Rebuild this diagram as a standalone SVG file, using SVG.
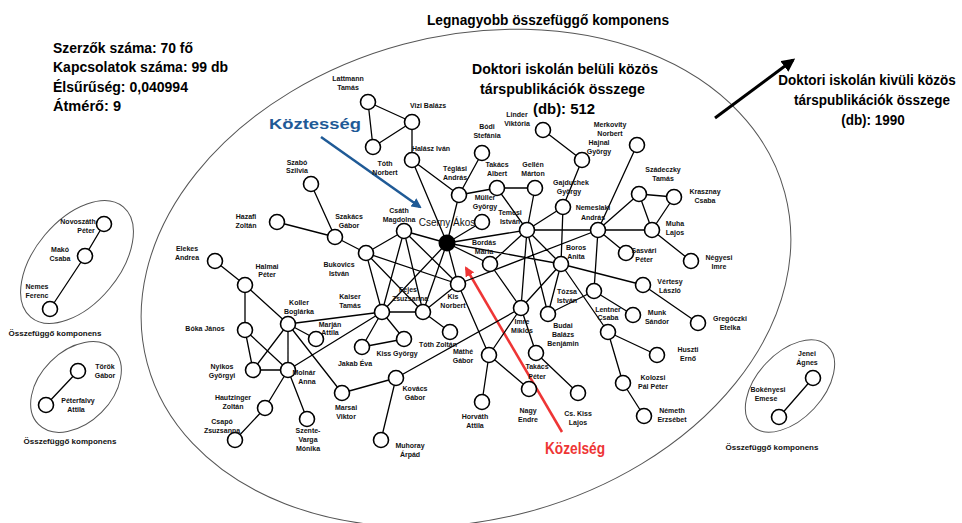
<svg xmlns="http://www.w3.org/2000/svg" width="962" height="523" viewBox="0 0 962 523">
<style>
.e{stroke:#000;stroke-width:1.3;fill:none}
.n{fill:#fff;stroke:#000;stroke-width:1.6}
.lb{font-family:"Liberation Sans",Arial,sans-serif;font-weight:bold;font-size:7px;fill:#111;text-anchor:middle}
.big{font-family:"Liberation Sans",Arial,sans-serif;font-weight:bold;font-size:15px;fill:#000}
.ring{fill:none;stroke:#555;stroke-width:1}
</style>
<defs>
<marker id="ab" viewBox="0 0 10 10" refX="8" refY="5" markerWidth="4.5" markerHeight="4.5" orient="auto"><path d="M0,0L10,5L0,10z" fill="#000"/></marker>
<marker id="au" viewBox="0 0 10 10" refX="8" refY="5" markerWidth="4" markerHeight="4" orient="auto"><path d="M0,0L10,5L0,10z" fill="#1f5a96"/></marker>
<marker id="ar" viewBox="0 0 10 10" refX="8" refY="5" markerWidth="4" markerHeight="4" orient="auto"><path d="M0,0L10,5L0,10z" fill="#ee3535"/></marker>
</defs>
<rect width="962" height="523" fill="#fff"/>

<!-- component outlines -->
<g id="outlines">
<ellipse class="ring" cx="466" cy="278" rx="330" ry="242" transform="rotate(-15 466 278)"/>
<ellipse class="ring" cx="77" cy="262" rx="72" ry="42" transform="rotate(-50 77 262)"/>
<ellipse class="ring" cx="76" cy="387" rx="53" ry="36" transform="rotate(-45 76 387)"/>
<ellipse class="ring" cx="790" cy="386" rx="55" ry="33" transform="rotate(-47 790 386)"/>
</g>

<!-- headings and statistics -->
<g id="texts">
<text class="big" x="427" y="25" textLength="242" lengthAdjust="spacingAndGlyphs">Legnagyobb összefüggő komponens</text>
<text class="big" x="53" y="53" textLength="140" lengthAdjust="spacingAndGlyphs">Szerzők száma: 70 fő</text>
<text class="big" x="53" y="72" textLength="175" lengthAdjust="spacingAndGlyphs">Kapcsolatok száma: 99 db</text>
<text class="big" x="53" y="92" textLength="135" lengthAdjust="spacingAndGlyphs">Élsűrűség: 0,040994</text>
<text class="big" x="53" y="111" textLength="68" lengthAdjust="spacingAndGlyphs">Átmérő: 9</text>
<text class="big" x="472" y="74" textLength="186" lengthAdjust="spacingAndGlyphs">Doktori iskolán belüli közös</text>
<text class="big" x="480" y="94" textLength="165" lengthAdjust="spacingAndGlyphs">társpublikációk összege</text>
<text class="big" x="533" y="114" textLength="62" lengthAdjust="spacingAndGlyphs">(db): 512</text>
<text class="big" transform="translate(867 85) scale(0.9 1)" text-anchor="middle">Doktori iskolán kivüli közös</text>
<text class="big" transform="translate(872 105) scale(0.9 1)" text-anchor="middle">társpublikációk összege</text>
<text class="big" transform="translate(873 125) scale(0.9 1)" text-anchor="middle">(db): 1990</text>
<text class="big" x="269" y="129" style="fill:#1f5a96" textLength="92" lengthAdjust="spacingAndGlyphs">Köztesség</text>
<text class="big" x="545" y="454" style="fill:#ee3535;font-size:16px" textLength="60" lengthAdjust="spacingAndGlyphs">Közelség</text>
<text class="lb" x="55" y="336" style="font-size:8px">Összefüggő komponens</text>
<text class="lb" x="70" y="444" style="font-size:8px">Összefüggő komponens</text>
<text class="lb" x="772" y="450" style="font-size:8px">Összefüggő komponens</text>
</g>

<!-- arrows -->
<g id="arrows">
<line x1="715" y1="118" x2="793" y2="60" stroke="#000" stroke-width="3" marker-end="url(#ab)"/>
<line x1="321" y1="137" x2="420" y2="207" stroke="#1f5a96" stroke-width="2.5" marker-end="url(#au)"/>
<line x1="562" y1="432" x2="466" y2="268" stroke="#ee3535" stroke-width="2.5" marker-end="url(#ar)"/>
</g>

<g id="connectors">
<!-- small components -->
<path class="e" d="M104,224L85,256L50,309M78,371L46,405M813,378L779,417"/>
<!-- top cluster -->
<path class="e" d="M368,102L412,122M368,102L373,147M373,147L412,122M412,122L412,160M412,160L459,195M412,160L447,243M482,153L459,195M459,195L497,188M459,195L447,243"/>
<!-- upper right -->
<path class="e" d="M497,188L535,188M497,188L527,230M535,188L527,230M543,130L582,160M582,160L563,207M563,207L527,230M563,207L561,264M637,145L598,230M598,230L639,194M598,230L652,230M598,230L626,253M598,230L594,291M527,230L598,230M639,194L674,197M639,194L652,230M674,197L652,230M652,230L691,261"/>
<!-- centre -->
<path class="e" d="M447,243L527,230M447,243L561,264M447,243L404,231M447,243L458,284M447,243L423,312M447,243L382,312M447,243L482,222M447,243L490,264M527,230L490,264M527,230L561,264M527,230L548,314M527,230L521,308M490,264L521,308M561,264L521,308M561,264L548,314M561,264L608,332M561,264L643,285M458,284L598,230M458,284L489,355"/>
<!-- left centre -->
<path class="e" d="M311,184L335,237M277,222L335,237M335,237L366,253M366,253L404,231M366,253L458,284M366,253L382,312M366,253L423,312M404,231L382,312M404,231L423,312M404,231L458,284M382,312L423,312M423,312L450,332M423,312L458,284"/>
<!-- left -->
<path class="e" d="M215,261L245,285M245,285L245,330M245,285L288,324M245,330L253,370M245,330L288,370M288,324L253,370M288,324L288,370M253,370L288,370M288,324L382,312M288,324L316,339M288,324L342,393M288,370L382,312M288,370L265,408M265,408L235,440M288,370L307,419M382,312L362,347M382,312L404,339M362,347L404,339"/>
<!-- lower -->
<path class="e" d="M342,393L396,378M396,378L381,440M396,378L521,308M521,308L489,355M521,308L536,353M489,355L482,402M489,355L529,389M536,353L578,393M548,314L594,291M594,291L633,315M643,285L698,323M608,332L657,355M608,332L623,383M623,383L644,416"/>
</g>

<g id="nodes">
<g id="n-lattmann"><circle class="n" cx="368" cy="102" r="7.5"/><text class="lb" x="348" y="81">Lattmann</text><text class="lb" x="348" y="90">Tamás</text></g>
<g id="n-vizi"><circle class="n" cx="412" cy="122" r="7.5"/><text class="lb" x="428" y="108">Vizi Balázs</text></g>
<g id="n-tothn"><circle class="n" cx="373" cy="147" r="7.5"/><text class="lb" x="385" y="166">Tóth</text><text class="lb" x="385" y="175">Norbert</text></g>
<g id="n-halasz"><circle class="n" cx="412" cy="160" r="7.5"/><text class="lb" x="431" y="151">Halász Iván</text></g>
<g id="n-bodi"><circle class="n" cx="482" cy="153" r="7.5"/><text class="lb" x="487" y="129">Bódi</text><text class="lb" x="487" y="138">Stefánia</text></g>
<g id="n-linder"><circle class="n" cx="543" cy="130" r="7.5"/><text class="lb" x="517" y="117">Linder</text><text class="lb" x="517" y="126">Viktória</text></g>
<g id="n-merkovity"><circle class="n" cx="637" cy="145" r="7.5"/><text class="lb" x="610" y="127">Merkovity</text><text class="lb" x="610" y="136">Norbert</text></g>
<g id="n-hajnal"><circle class="n" cx="582" cy="160" r="7.5"/><text class="lb" x="599" y="145">Hajnal</text><text class="lb" x="599" y="154">György</text></g>
<g id="n-teglasi"><circle class="n" cx="459" cy="195" r="7.5"/><text class="lb" x="455" y="171">Téglási</text><text class="lb" x="455" y="180">András</text></g>
<g id="n-takacsa"><circle class="n" cx="497" cy="188" r="7.5"/><text class="lb" x="497" y="167">Takács</text><text class="lb" x="497" y="176">Albert</text></g>
<g id="n-gellen"><circle class="n" cx="535" cy="188" r="7.5"/><text class="lb" x="533" y="167">Gellén</text><text class="lb" x="533" y="176">Márton</text></g>
<g id="n-muller"><circle class="n" cx="482" cy="222" r="7.5"/><text class="lb" x="485" y="200">Müller</text><text class="lb" x="485" y="209">György</text></g>
<g id="n-temesi"><circle class="n" cx="527" cy="230" r="7.5"/><text class="lb" x="510" y="215">Temesi</text><text class="lb" x="510" y="224">István</text></g>
<g id="n-gajduchek"><circle class="n" cx="563" cy="207" r="7.5"/><text class="lb" x="571" y="185">Gajduchek</text><text class="lb" x="569" y="194">György</text></g>
<g id="n-nemeslaki"><circle class="n" cx="598" cy="230" r="7.5"/><text class="lb" x="593" y="210">Nemeslaki</text><text class="lb" x="593" y="220">András</text></g>
<g id="n-szadeczky"><circle class="n" cx="639" cy="194" r="7.5"/><text class="lb" x="663" y="172">Szádeczky</text><text class="lb" x="663" y="181">Tamás</text></g>
<g id="n-krasznay"><circle class="n" cx="674" cy="197" r="7.5"/><text class="lb" x="705" y="194">Krasznay</text><text class="lb" x="705" y="203">Csaba</text></g>
<g id="n-muha"><circle class="n" cx="652" cy="230" r="7.5"/><text class="lb" x="675" y="226">Muha</text><text class="lb" x="675" y="235">Lajos</text></g>
<g id="n-sasvari"><circle class="n" cx="626" cy="253" r="7.5"/><text class="lb" x="644" y="253">Sasvári</text><text class="lb" x="644" y="262">Péter</text></g>
<g id="n-negyesi"><circle class="n" cx="691" cy="261" r="7.5"/><text class="lb" x="719" y="260">Négyesi</text><text class="lb" x="719" y="269">Imre</text></g>
<g id="n-bordas"><circle class="n" cx="490" cy="264" r="7.5"/><text class="lb" x="484" y="245">Bordás</text><text class="lb" x="484" y="254">Mária</text></g>
<g id="n-boros"><circle class="n" cx="561" cy="264" r="7.5"/><text class="lb" x="576" y="250">Boros</text><text class="lb" x="576" y="259">Anita</text></g>
<g id="n-cserny"><circle cx="447" cy="243" r="8.5" fill="#000"/><text x="447" y="226" style="font-family:'Liberation Sans',Arial,sans-serif;font-size:10px;fill:#111;text-anchor:middle">Cserny Ákos</text></g>
<g id="n-csath"><circle class="n" cx="404" cy="231" r="7.5"/><text class="lb" x="399" y="213">Csáth</text><text class="lb" x="399" y="222">Magdolna</text></g>
<g id="n-szakacs"><circle class="n" cx="335" cy="237" r="7.5"/><text class="lb" x="349" y="219">Szakács</text><text class="lb" x="349" y="228">Gábor</text></g>
<g id="n-szabo"><circle class="n" cx="311" cy="184" r="7.5"/><text class="lb" x="297" y="165">Szabó</text><text class="lb" x="297" y="173">Szilvia</text></g>
<g id="n-hazafi"><circle class="n" cx="277" cy="222" r="7.5"/><text class="lb" x="246" y="219">Hazafi</text><text class="lb" x="246" y="228">Zoltán</text></g>
<g id="n-bukovics"><circle class="n" cx="366" cy="253" r="7.5"/><text class="lb" x="339" y="267">Bukovics</text><text class="lb" x="339" y="276">István</text></g>
<g id="n-kisn"><circle class="n" cx="458" cy="284" r="7.5"/><text class="lb" x="453" y="299">Kis</text><text class="lb" x="453" y="308">Norbert</text></g>
<g id="n-fejes"><circle class="n" cx="423" cy="312" r="7.5"/><text class="lb" x="408" y="292">Fejes</text><text class="lb" x="410" y="301">Zsuzsanna</text></g>
<g id="n-kaiser"><circle class="n" cx="382" cy="312" r="7.5"/><text class="lb" x="350" y="299">Kaiser</text><text class="lb" x="350" y="308">Tamás</text></g>
<g id="n-halmai"><circle class="n" cx="245" cy="285" r="7.5"/><text class="lb" x="267" y="269">Halmai</text><text class="lb" x="267" y="277">Péter</text></g>
<g id="n-koller"><circle class="n" cx="288" cy="324" r="7.5"/><text class="lb" x="299" y="305">Koller</text><text class="lb" x="299" y="314">Boglárka</text></g>
<g id="n-elekes"><circle class="n" cx="215" cy="261" r="7.5"/><text class="lb" x="187" y="251">Elekes</text><text class="lb" x="187" y="260">Andrea</text></g>
<g id="n-boka"><circle class="n" cx="245" cy="330" r="7.5"/><text class="lb" x="205" y="331">Bóka János</text></g>
<g id="n-marjan"><circle class="n" cx="316" cy="339" r="7.5"/><text class="lb" x="330" y="327">Marján</text><text class="lb" x="330" y="335">Attila</text></g>
<g id="n-tothz"><circle class="n" cx="450" cy="332" r="7.5"/><text class="lb" x="438" y="347">Tóth Zoltán</text></g>
<g id="n-jakab"><circle class="n" cx="362" cy="347" r="7.5"/><text class="lb" x="355" y="366">Jakab Éva</text></g>
<g id="n-kissgy"><circle class="n" cx="404" cy="339" r="7.5"/><text class="lb" x="397" y="356">Kiss György</text></g>
<g id="n-nyikos"><circle class="n" cx="253" cy="370" r="7.5"/><text class="lb" x="222" y="369">Nyikos</text><text class="lb" x="222" y="378">Györgyi</text></g>
<g id="n-molnar"><circle class="n" cx="288" cy="370" r="7.5"/><text class="lb" x="304" y="375">Molnár</text><text class="lb" x="307" y="384">Anna</text></g>
<g id="n-hautzinger"><circle class="n" cx="265" cy="408" r="7.5"/><text class="lb" x="233" y="400">Hautzinger</text><text class="lb" x="233" y="409">Zoltán</text></g>
<g id="n-csapo"><circle class="n" cx="235" cy="440" r="7.5"/><text class="lb" x="222" y="424">Csapó</text><text class="lb" x="222" y="433">Zsuzsanna</text></g>
<g id="n-szente"><circle class="n" cx="307" cy="419" r="7.5"/><text class="lb" x="308" y="433">Szente-</text><text class="lb" x="308" y="442">Varga</text><text class="lb" x="308" y="451">Mónika</text></g>
<g id="n-marsai"><circle class="n" cx="342" cy="393" r="7.5"/><text class="lb" x="346" y="410">Marsai</text><text class="lb" x="346" y="419">Viktor</text></g>
<g id="n-kovacs"><circle class="n" cx="396" cy="378" r="7.5"/><text class="lb" x="415" y="391">Kovács</text><text class="lb" x="415" y="400">Gábor</text></g>
<g id="n-muhoray"><circle class="n" cx="381" cy="440" r="7.5"/><text class="lb" x="410" y="448">Muhoray</text><text class="lb" x="410" y="457">Árpád</text></g>
<g id="n-mathe"><circle class="n" cx="489" cy="355" r="7.5"/><text class="lb" x="463" y="354">Máthé</text><text class="lb" x="463" y="363">Gábor</text></g>
<g id="n-horvath"><circle class="n" cx="482" cy="402" r="7.5"/><text class="lb" x="475" y="419">Horváth</text><text class="lb" x="475" y="428">Attila</text></g>
<g id="n-vertesy"><circle class="n" cx="643" cy="285" r="7.5"/><text class="lb" x="670" y="284">Vértesy</text><text class="lb" x="670" y="293">László</text></g>
<g id="n-tozsa"><circle class="n" cx="594" cy="291" r="7.5"/><text class="lb" x="567" y="294">Tózsa</text><text class="lb" x="567" y="303">István</text></g>
<g id="n-imre"><circle class="n" cx="521" cy="308" r="7.5"/><text class="lb" x="522" y="324">Imre</text><text class="lb" x="522" y="333">Miklós</text></g>
<g id="n-budai"><circle class="n" cx="548" cy="314" r="7.5"/><text class="lb" x="563" y="328">Budai</text><text class="lb" x="563" y="337">Balázs</text><text class="lb" x="563" y="346">Benjámin</text></g>
<g id="n-munk"><circle class="n" cx="633" cy="315" r="7.5"/><text class="lb" x="657" y="315">Munk</text><text class="lb" x="657" y="324">Sándor</text></g>
<g id="n-gregoczki"><circle class="n" cx="698" cy="323" r="7.5"/><text class="lb" x="730" y="321">Gregóczki</text><text class="lb" x="730" y="330">Etelka</text></g>
<g id="n-lentner"><circle class="n" cx="608" cy="332" r="7.5"/><text class="lb" x="608" y="312">Lentner</text><text class="lb" x="608" y="320">Csaba</text></g>
<g id="n-takacsp"><circle class="n" cx="536" cy="353" r="7.5"/><text class="lb" x="537" y="369">Takács</text><text class="lb" x="537" y="379">Péter</text></g>
<g id="n-huszti"><circle class="n" cx="657" cy="355" r="7.5"/><text class="lb" x="688" y="352">Huszti</text><text class="lb" x="688" y="361">Ernő</text></g>
<g id="n-nagy"><circle class="n" cx="529" cy="389" r="7.5"/><text class="lb" x="528" y="413">Nagy</text><text class="lb" x="528" y="422">Endre</text></g>
<g id="n-cskiss"><circle class="n" cx="578" cy="393" r="7.5"/><text class="lb" x="578" y="416">Cs. Kiss</text><text class="lb" x="578" y="425">Lajos</text></g>
<g id="n-kolozsi"><circle class="n" cx="623" cy="383" r="7.5"/><text class="lb" x="653" y="380">Kolozsi</text><text class="lb" x="653" y="389">Pál Péter</text></g>
<g id="n-nemeth"><circle class="n" cx="644" cy="416" r="7.5"/><text class="lb" x="672" y="413">Németh</text><text class="lb" x="672" y="422">Erzsébet</text></g>
<g id="n-novoszath"><circle class="n" cx="104" cy="224" r="7.5"/><text class="lb" x="78" y="224">Novoszáth</text><text class="lb" x="86" y="233">Péter</text></g>
<g id="n-mako"><circle class="n" cx="85" cy="256" r="7.5"/><text class="lb" x="60" y="252">Makó</text><text class="lb" x="60" y="261">Csaba</text></g>
<g id="n-nemes"><circle class="n" cx="50" cy="309" r="7.5"/><text class="lb" x="37" y="289">Nemes</text><text class="lb" x="37" y="298">Ferenc</text></g>
<g id="n-torok"><circle class="n" cx="78" cy="371" r="7.5"/><text class="lb" x="105" y="369">Török</text><text class="lb" x="105" y="378">Gábor</text></g>
<g id="n-peterfalvy"><circle class="n" cx="46" cy="405" r="7.5"/><text class="lb" x="78" y="403">Péterfalvy</text><text class="lb" x="76" y="412">Attila</text></g>
<g id="n-jenei"><circle class="n" cx="813" cy="378" r="7.5"/><text class="lb" x="807" y="356">Jenei</text><text class="lb" x="807" y="365">Ágnes</text></g>
<g id="n-bokenyesi"><circle class="n" cx="779" cy="417" r="7.5"/><text class="lb" x="768" y="392">Bokényesi</text><text class="lb" x="766" y="401">Emese</text></g>
</g>
</svg>
